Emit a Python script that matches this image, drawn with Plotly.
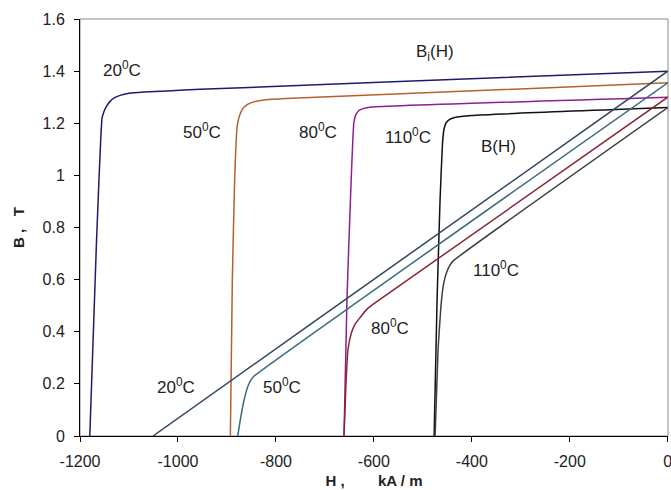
import plotly.graph_objects as go

# Intrinsic curves Bi(H)
H_bi_20 = [-1180, -1167, -1155, -1151, -1146, -1139, -1130, -1118, -1100, -1070, -1022, -955, -588, 0]
B_bi_20 = [0, 0.71, 1.22, 1.245, 1.265, 1.283, 1.297, 1.307, 1.315, 1.32, 1.324, 1.33, 1.357, 1.40]
H_bi_50 = [-893, -889, -884, -879, -875, -868, -858, -845, -820, -780, 0]
B_bi_50 = [0, 0.6, 1.0, 1.19, 1.225, 1.255, 1.272, 1.282, 1.29, 1.295, 1.355]
H_bi_80 = [-661, -655, -648, -641, -637, -631, -622, -605, 0]
B_bi_80 = [0, 0.52, 0.9, 1.2, 1.232, 1.248, 1.256, 1.262, 1.30]
H_bi_110 = [-477, -471, -465, -460, -457, -453, -446, -435, -400, 0]
B_bi_110 = [0, 0.52, 0.9, 1.12, 1.175, 1.2, 1.214, 1.222, 1.23, 1.26]

# Normal curves B(H)
H_b_20 = [-1051, -724, 0]
B_b_20 = [0, 0.436, 1.40]
H_b_50 = [-878, -872, -865, -857, -851, -845, 0]
B_b_50 = [0, 0.07, 0.138, 0.192, 0.215, 0.229, 1.355]
H_b_80 = [-661, -657, -653, -646, -638, -628, -615, -602, 0]
B_b_80 = [0, 0.2, 0.33, 0.395, 0.43, 0.455, 0.485, 0.505, 1.30]
H_b_110 = [-475, -469, -463, -458, -452, -445, -438, 0]
B_b_110 = [0, 0.33, 0.5, 0.58, 0.625, 0.655, 0.672, 1.26]

x_ticks = [-1200, -1000, -800, -600, -400, -200, 0]
x_tick_text = ["-1200", "-1000", "-800", "-600", "-400", "-200", "0"]
y_ticks = [0, 0.2, 0.4, 0.6, 0.8, 1.0, 1.2, 1.4, 1.6]
y_tick_text = ["0", "0.2", "0.4", "0.6", "0.8", "1", "1.2", "1.4", "1.6"]

# Labels: (text, H, B)
labels = [
    ("20<sup>0</sup>C", -1114, 1.41),
    ("50<sup>0</sup>C", -951, 1.17),
    ("80<sup>0</sup>C", -714, 1.17),
    ("110<sup>0</sup>C", -531, 1.15),
    ("B(H)", -345, 1.11),
    ("B<sub>i</sub>(H)", -476, 1.47),
    ("20<sup>0</sup>C", -1004, 0.19),
    ("50<sup>0</sup>C", -788, 0.19),
    ("80<sup>0</sup>C", -567, 0.42),
    ("110<sup>0</sup>C", -351, 0.64),
]

series = [
    (H_bi_20, B_bi_20, "#1c1c6b"),
    (H_bi_50, B_bi_50, "#b5602e"),
    (H_bi_80, B_bi_80, "#8e1f8e"),
    (H_bi_110, B_bi_110, "#111111"),
    (H_b_20, B_b_20, "#2f4660"),
    (H_b_50, B_b_50, "#3b6a7e"),
    (H_b_80, B_b_80, "#8a2535"),
    (H_b_110, B_b_110, "#3e3e3e"),
]

fig = go.Figure()
for hx, by, col in series:
    fig.add_trace(go.Scatter(x=hx, y=by, mode="lines",
                             line=dict(color=col, width=1.5, shape="spline", smoothing=0.4),
                             showlegend=False, cliponaxis=False))

for txt, hx, by in labels:
    fig.add_annotation(x=hx, y=by, text=txt, showarrow=False,
                       font=dict(family="Liberation Sans, Arial", size=17, color="#222222"))

fig.add_shape(type="rect", xref="paper", yref="paper", x0=0, y0=0, x1=1, y1=1,
              line=dict(color="#888888", width=1), layer="below")

font = dict(family="Liberation Sans, Arial", size=16, color="#222222")
fig.update_layout(
    width=671, height=490,
    margin=dict(l=80, r=3, t=19, b=54, autoexpand=False),
    paper_bgcolor="white", plot_bgcolor="white",
    font=font,
    xaxis=dict(range=[-1200, 0.5], tickvals=x_ticks, ticktext=x_tick_text,
               ticks="outside", ticklen=5, ticklabelstandoff=6,
               ticklabeloverflow="allow", automargin=False,
               tickcolor="black", showline=True, linecolor="black", linewidth=1,
               showgrid=False, zeroline=False,
               title=dict(text="<b>H ,        kA / m</b>", standoff=6,
                          font=dict(family="Liberation Sans, Arial", size=15, color="#222222"))),
    yaxis=dict(range=[0, 1.6], tickvals=y_ticks, ticktext=y_tick_text,
               ticks="outside", ticklen=5, ticklabelstandoff=6,
               ticklabeloverflow="allow", automargin=False,
               tickcolor="black", showline=True, linecolor="black", linewidth=1,
               showgrid=False, zeroline=False,
               title=dict(text="<b>B ,   T</b>", standoff=14,
                          font=dict(family="Liberation Sans, Arial", size=15, color="#222222"))),
)

fig.write_html("out.html")
